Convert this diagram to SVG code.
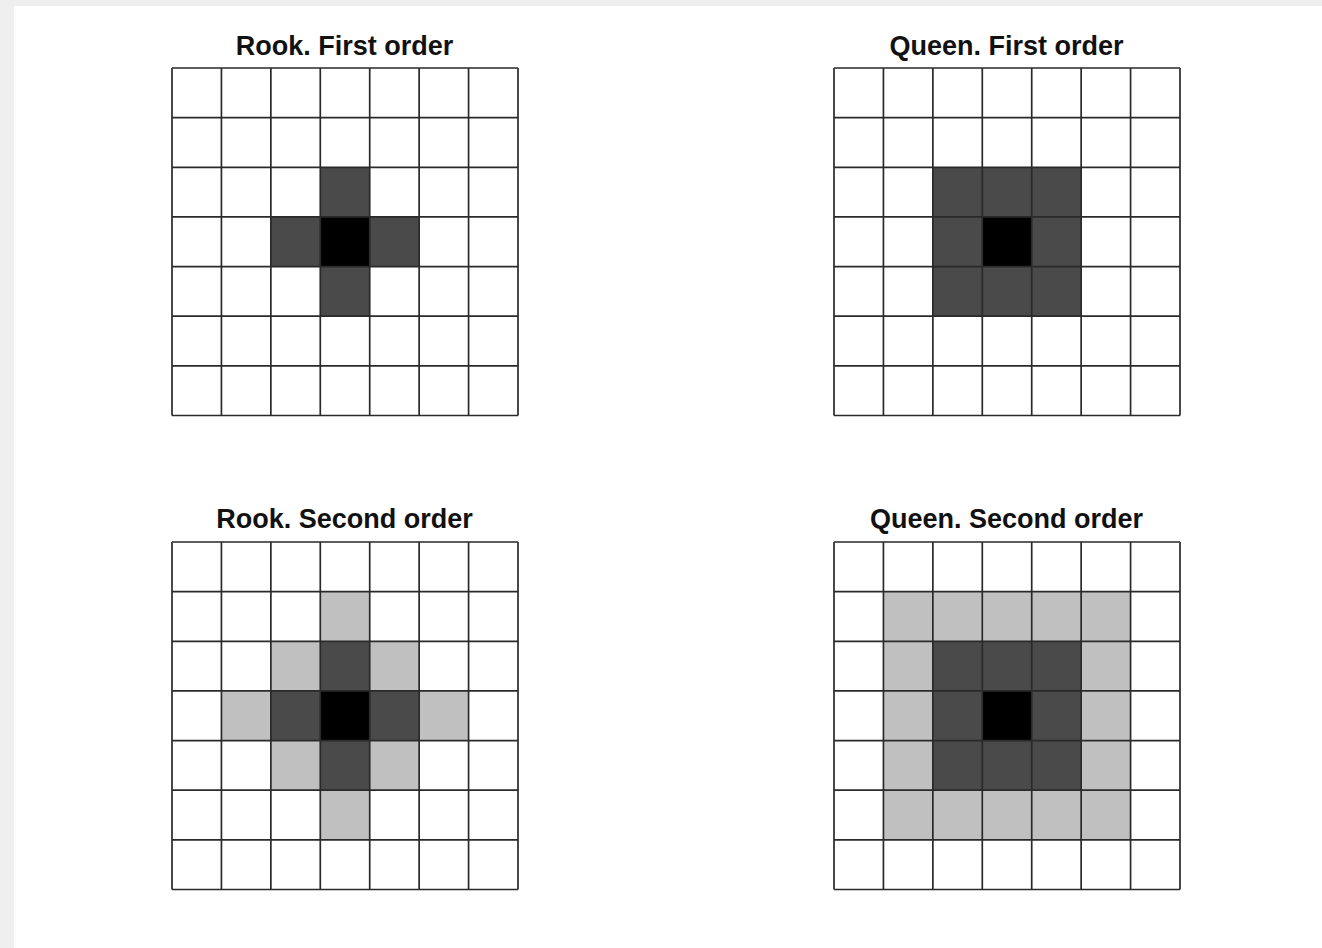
<svg xmlns="http://www.w3.org/2000/svg" xmlns:xlink="http://www.w3.org/1999/xlink" width="1322" height="948" viewBox="0 0 1322 948">
<style>
.title{font-family:"Liberation Sans",Arial,sans-serif;font-weight:bold;font-size:27px;fill:#111;text-anchor:middle}
.dk{fill:#4a4a4a}
.bk{fill:#000}
.lt{fill:#c0c0c0}
.grid{fill:none;stroke:#2a2a2a;stroke-width:1.7}
</style>
<defs>
<path id="gridlines" class="grid" d="M0 0V347.5M49.43 0V347.5M98.86 0V347.5M148.29 0V347.5M197.71 0V347.5M247.14 0V347.5M296.57 0V347.5M346 0V347.5M0 0H346M0 49.64H346M0 99.29H346M0 148.93H346M0 198.57H346M0 248.21H346M0 297.86H346M0 347.5H346"/>
</defs>
<rect x="0" y="0" width="1322" height="948" fill="#efefef"/>
<rect x="14" y="6" width="1308" height="942" fill="#ffffff"/>

<g id="rook-first">
<text class="title" x="344.5" y="55">Rook. First order</text>
<g transform="translate(172,68)">
<rect class="dk" x="148.29" y="99.29" width="49.43" height="49.64"/>
<rect class="dk" x="98.86" y="148.93" width="49.43" height="49.64"/>
<rect class="dk" x="197.71" y="148.93" width="49.43" height="49.64"/>
<rect class="dk" x="148.29" y="198.57" width="49.43" height="49.64"/>
<rect class="bk" x="148.29" y="148.93" width="49.43" height="49.64"/>
<use xlink:href="#gridlines"/>
</g>
</g>

<g id="queen-first">
<text class="title" x="1006.5" y="55">Queen. First order</text>
<g transform="translate(834,68)">
<rect class="dk" x="98.86" y="99.29" width="148.29" height="148.93"/>
<rect class="bk" x="148.29" y="148.93" width="49.43" height="49.64"/>
<use xlink:href="#gridlines"/>
</g>
</g>

<g id="rook-second">
<text class="title" x="344.5" y="528">Rook. Second order</text>
<g transform="translate(172,542)">
<rect class="lt" x="148.29" y="49.64" width="49.43" height="49.64"/>
<rect class="lt" x="98.86" y="99.29" width="49.43" height="49.64"/>
<rect class="lt" x="197.71" y="99.29" width="49.43" height="49.64"/>
<rect class="lt" x="49.43" y="148.93" width="49.43" height="49.64"/>
<rect class="lt" x="247.14" y="148.93" width="49.43" height="49.64"/>
<rect class="lt" x="98.86" y="198.57" width="49.43" height="49.64"/>
<rect class="lt" x="197.71" y="198.57" width="49.43" height="49.64"/>
<rect class="lt" x="148.29" y="248.21" width="49.43" height="49.64"/>
<rect class="dk" x="148.29" y="99.29" width="49.43" height="49.64"/>
<rect class="dk" x="98.86" y="148.93" width="49.43" height="49.64"/>
<rect class="dk" x="197.71" y="148.93" width="49.43" height="49.64"/>
<rect class="dk" x="148.29" y="198.57" width="49.43" height="49.64"/>
<rect class="bk" x="148.29" y="148.93" width="49.43" height="49.64"/>
<use xlink:href="#gridlines"/>
</g>
</g>

<g id="queen-second">
<text class="title" x="1006.5" y="528">Queen. Second order</text>
<g transform="translate(834,542)">
<rect class="lt" x="49.43" y="49.64" width="247.14" height="248.21"/>
<rect class="dk" x="98.86" y="99.29" width="148.29" height="148.93"/>
<rect class="bk" x="148.29" y="148.93" width="49.43" height="49.64"/>
<use xlink:href="#gridlines"/>
</g>
</g>

<g id="connectors"></g>
</svg>
